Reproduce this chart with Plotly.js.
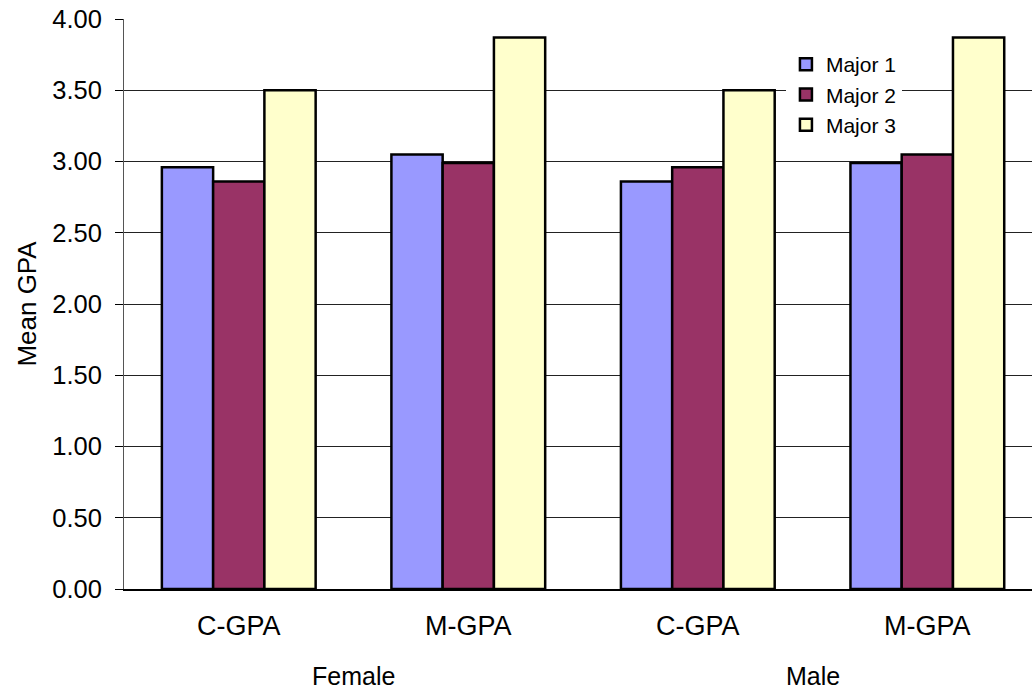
<!DOCTYPE html>
<html>
<head>
<meta charset="utf-8">
<script src="https://cdn.plot.ly/plotly-3.0.1.min.js"></script>
<style>html,body{margin:0;padding:0;background:#fff;}#chart{width:1032px;height:694px;}</style>
</head>
<body>
<div id="chart"></div>
<script>
// Data
var categories = ["C-GPA", "M-GPA", "C-GPA", "M-GPA"];
var groups = ["Female", "Male"];
var seriesNames = ["Major 1", "Major 2", "Major 3"];
var major1 = [2.96, 3.05, 2.86, 2.99];
var major2 = [2.86, 2.99, 2.96, 3.05];
var major3 = [3.50, 3.87, 3.50, 3.87];
var yTickVals = [0, 0.5, 1, 1.5, 2, 2.5, 3, 3.5, 4];
var yTickText = ["0.00", "0.50", "1.00", "1.50", "2.00", "2.50", "3.00", "3.50", "4.00"];

var colors = ["#9999FF", "#993366", "#FFFFCC"];
var seriesValues = [major1, major2, major3];
var xPos = categories.map(function (c, i) { return i; });

var FONT = "Liberation Sans, Arial, sans-serif";

var traces = seriesValues.map(function (vals, k) {
  return {
    type: "bar",
    name: seriesNames[k],
    x: xPos,
    y: vals,
    legendgroup: "g" + k,
    marker: { color: colors[k], line: { color: "#000000", width: 2.5 } },
    hoverinfo: "y+name"
  };
});

var layout = {
  width: 1032,
  height: 694,
  margin: { l: 124, r: 0, t: 19, b: 105, pad: 0 },
  paper_bgcolor: "#ffffff",
  plot_bgcolor: "#ffffff",
  barmode: "group",
  bargap: 0.33,
  bargroupgap: 0,
  font: { family: FONT, color: "#000000", size: 24 },
  showlegend: true,
  legend: {
    x: 0.729, y: 0.956, xanchor: "left", yanchor: "top",
    bgcolor: "#ffffff", borderwidth: 0,
    font: { family: FONT, size: 21, color: "#000000" },
    traceorder: "grouped", tracegroupgap: 0
  },
  xaxis: {
    range: [-0.5, 3.456],
    tickmode: "array",
    tickvals: xPos,
    ticktext: categories,
    ticks: "",
    showgrid: false,
    zeroline: false,
    showline: true,
    linecolor: "#000000",
    linewidth: 1.5,
    tickfont: { family: FONT, size: 27, color: "#000000" },
    ticklabelstandoff: 12,
    fixedrange: true
  },
  yaxis: {
    range: [0, 4],
    tickmode: "array",
    tickvals: yTickVals,
    ticktext: yTickText,
    ticks: "outside",
    ticklen: 8,
    tickcolor: "#000000",
    tickwidth: 1,
    showgrid: true,
    gridcolor: "#222222",
    gridwidth: 1,
    zeroline: false,
    showline: true,
    linecolor: "#555555",
    linewidth: 1,
    tickfont: { family: FONT, size: 25.5, color: "#000000" },
    ticklabelstandoff: 8,
    title: { text: "Mean GPA", font: { family: FONT, size: 26, color: "#000000" }, standoff: 8 },
    fixedrange: true
  },
  annotations: groups.map(function (g, i) {
    return {
      text: g, x: 0.5 + 2 * i, xref: "x", y: -0.153, yref: "paper",
      xanchor: "center", yanchor: "middle", showarrow: false,
      font: { family: FONT, size: 25, color: "#000000" }
    };
  })
};

Plotly.newPlot("chart", traces, layout, { displayModeBar: false, staticPlot: true });
</script>
</body>
</html>
